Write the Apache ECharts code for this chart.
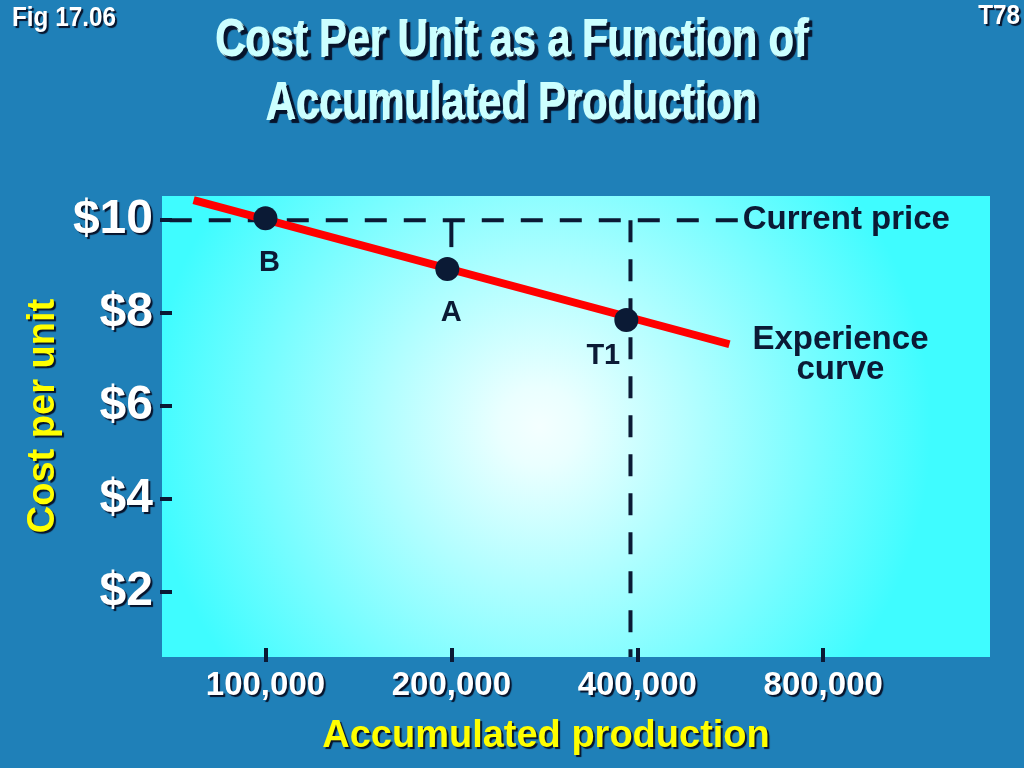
<!DOCTYPE html>
<html>
<head>
<meta charset="utf-8">
<script src="https://cdn.jsdelivr.net/npm/echarts@6/dist/echarts.min.js"></script>
<style>
html,body{margin:0;padding:0;background:#1f80b8;}
#chart{width:1024px;height:768px;}
</style>
</head>
<body>
<div id="chart"></div>
<script>
// ---- data ----
const productionTicks = [100000, 200000, 400000, 800000];
const costTicks = [2, 4, 6, 8, 10];
const curveProduction = [76500, 564000];
const curveCost = [10.43, 7.33];
const pointNames = ['B', 'A', 'T1'];
const pointProduction = [100000, 197000, 384000];
const pointCost = [10.04, 8.95, 7.85];
const currentPrice = 10;
const priceLineProduction = [70000, 586000];
const t1LineProduction = 390000;
const aCornerProduction = 200000;
const aCornerCost = [10, 9.42];
const costMin = 0.6, costMax = 10.52;
const productionMin = 68000, productionMax = 1490000;

const NAVY = '#0b1a35';
const FONT = '"Liberation Sans", Arial, sans-serif';
const lg = v => Math.log2(v);
const fmtNum = v => Math.round(Math.pow(2, v)).toLocaleString('en-US');

const chart = echarts.init(document.getElementById('chart'));
const shadow = {textShadowColor: '#06122a', textShadowOffsetX: 2, textShadowOffsetY: 2, textShadowBlur: 1};
const titleStyle = {fill: '#ccffff', stroke: '#ccffff', lineWidth: 2, align: 'center', verticalAlign: 'middle', font: 'bold 50px ' + FONT,
  textShadowColor: '#06122a', textShadowOffsetX: 3, textShadowOffsetY: 3, textShadowBlur: 1};
const dash = [22, 17];

const option = {
  animation: false,
  backgroundColor: '#1f80b8',
  graphic: [
    {type: 'text', x: 512, y: 42, scaleX: 0.83, scaleY: 1.02,
     style: Object.assign({text: 'Cost Per Unit as a Function of'}, titleStyle)},
    {type: 'text', x: 512, y: 105, scaleX: 0.83, scaleY: 1.02,
     style: Object.assign({text: 'Accumulated Production'}, titleStyle)},
    {type: 'text', x: 12, y: 5, scaleX: 0.9,
     style: Object.assign({text: 'Fig 17.06', fill: '#ffffff', font: 'bold 27px ' + FONT}, shadow)},
    {type: 'text', x: 1020, y: 3, scaleX: 0.9,
     style: Object.assign({text: 'T78', fill: '#ffffff', align: 'right', font: 'bold 27px ' + FONT}, shadow)},
    {type: 'text', x: 44, y: 416, rotation: Math.PI / 2,
     style: Object.assign({text: 'Cost per unit', fill: '#ffff00', align: 'center', verticalAlign: 'middle', font: 'bold 38px ' + FONT}, shadow)},
    {type: 'text', x: 546, y: 737,
     style: Object.assign({text: 'Accumulated production', fill: '#ffff00', align: 'center', verticalAlign: 'middle', font: 'bold 38px ' + FONT}, shadow)}
  ],
  grid: {
    left: 162, right: 34, top: 196, bottom: 111,
    show: true, borderWidth: 0,
    backgroundColor: new echarts.graphic.RadialGradient(0.456, 0.5, 0.85, [
      {offset: 0, color: '#f4ffff'},
      {offset: 0.1, color: '#eaffff'},
      {offset: 1, color: '#3ffcff'}
    ])
  },
  xAxis: {
    type: 'value',
    min: lg(productionMin), max: lg(productionMax),
    offset: -9,
    axisLine: {show: false},
    splitLine: {show: false},
    axisTick: {show: true, inside: false, length: 14, lineStyle: {color: NAVY, width: 4}, customValues: productionTicks.map(lg)},
    axisLabel: Object.assign({
      customValues: productionTicks.map(lg), formatter: fmtNum, margin: 21,
      color: '#ffffff', fontSize: 33, fontWeight: 'bold', fontFamily: FONT
    }, shadow)
  },
  yAxis: {
    type: 'value',
    min: costMin, max: costMax,
    offset: -10,
    axisLine: {show: false},
    splitLine: {show: false},
    axisTick: {show: true, inside: false, length: 12, lineStyle: {color: NAVY, width: 4}, customValues: costTicks},
    axisLabel: Object.assign({
      customValues: costTicks, formatter: v => '$' + v, margin: 19,
      color: '#ffffff', fontSize: 48, fontWeight: 'bold', fontFamily: FONT
    }, shadow)
  },
  series: [
    {
      name: 'Current price', type: 'line', z: 2, symbol: 'none',
      data: priceLineProduction.map(p => [lg(p), currentPrice]),
      lineStyle: {color: NAVY, width: 4, type: dash},
      endLabel: {show: true, formatter: 'Current price', distance: 3, color: NAVY, fontSize: 33, fontWeight: 'bold', fontFamily: FONT}
    },
    {
      name: 'T1 production', type: 'line', z: 2, symbol: 'none',
      data: [[lg(t1LineProduction), currentPrice], [lg(t1LineProduction), costMin]],
      lineStyle: {color: NAVY, width: 4, type: dash}
    },
    {
      name: 'A corner', type: 'line', z: 2, symbol: 'none',
      data: aCornerCost.map(c => [lg(aCornerProduction), c]),
      lineStyle: {color: NAVY, width: 4}
    },
    {
      name: 'Experience curve', type: 'line', z: 3, symbol: 'none',
      data: curveProduction.map((p, i) => [lg(p), curveCost[i]]),
      lineStyle: {color: '#ff0000', width: 8},
      endLabel: {show: true, formatter: 'Experience\ncurve', align: 'center', distance: 0, offset: [111, 11], lineHeight: 30, color: NAVY, fontSize: 33, fontWeight: 'bold', fontFamily: FONT}
    },
    {
      name: 'Points', type: 'scatter', z: 4, symbol: 'circle', symbolSize: 24,
      itemStyle: {color: NAVY, opacity: 1},
      data: pointNames.map((n, i) => ({
        name: n, value: [lg(pointProduction[i]), pointCost[i]],
        label: n === 'T1' ? {offset: [-23, -9]} : {offset: [4, 0]}
      })),
      label: {show: true, position: 'bottom', distance: 18, formatter: '{b}', color: NAVY, opacity: 1, fontSize: 29, fontWeight: 'bold', fontFamily: FONT}
    }
  ]
};
chart.setOption(option);
</script>
</body>
</html>
